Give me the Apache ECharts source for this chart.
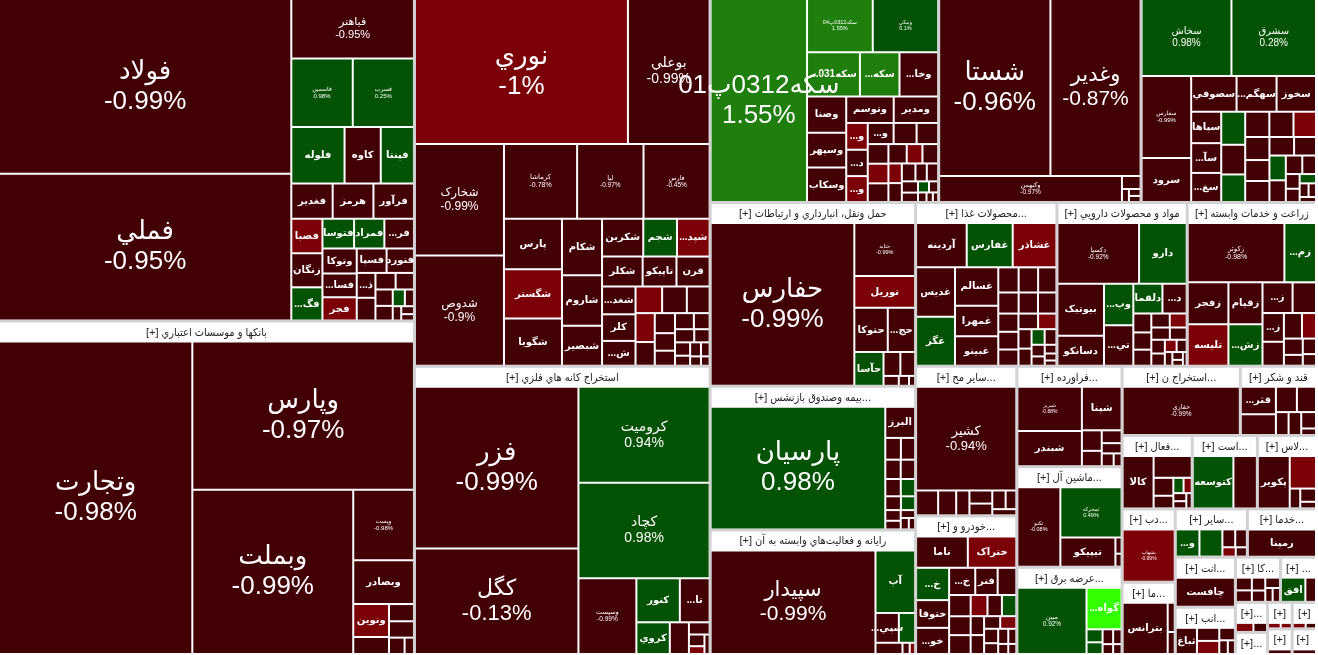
<!DOCTYPE html>
<html><head><meta charset="utf-8">
<script src="https://cdn.jsdelivr.net/npm/echarts@6/dist/echarts.min.js"></script>
<style>html,body{margin:0;padding:0;background:#fff;overflow:hidden}#c{width:1318px;height:655px}</style>
</head><body><div id="c"></div>
<script>
// ---- sector (industry) names and sizes ----
const sectorNames = [
 "فلزات اساسي","بانکها و موسسات اعتباري","محصولات شيميايي","استخراج کانه هاي فلزي",
 "سرمايه گذاريها","شرکتهاي چند رشته اي صنعتي","سيمان، آهک و گچ",
 "حمل ونقل، انبارداري و ارتباطات","بيمه وصندوق بازنشستگي به جزتامين اجتماعي","رايانه و فعاليت‌هاي وابسته به آن",
 "محصولات غذايي و آشاميدني به جز قند و شکر","مواد و محصولات دارويي","زراعت و خدمات وابسته",
 "ساير محصولات کاني غيرفلزي","خودرو و ساخت قطعات","فراورده هاي نفتي، کک و سوخت هسته اي",
 "ماشين آلات و تجهيزات","عرضه برق، گاز، بخاروآب گرم","استخراج نفت گاز و خدمات جنبي جز اکتشاف",
 "قند و شکر","فعاليتهاي کمکي به نهادهاي مالي واسط","استخراج ساير معادن","لاستيک و پلاستيک",
 "دباغي، پرداخت چرم و ساخت انواع پاپوش","ماشين آلات و دستگاه‌هاي برقي","ساير واسطه گريهاي مالي",
 "خدمات فني و مهندسي","انتشار، چاپ و تکثير","انبوه سازي، املاک و مستغلات","کاشي و سراميک",
 "خرده فروشي،باستثناي وسايل نقليه موتور","حمل و نقل آبي","محصولات کاغذي","منسوجات","هتل و رستوران",
 "محصولات چوبي","اطلاعات و ارتباطات"
];
const sectorValues = [141515,137780,113870,84665,50844,45046,39025,37515,29315,25420,22983,21190,21027,
 15049,13938,10510,10500,9135,8142,5244,5110,4745,4307,3869,3816,3456,3312,3000,2820,2025,1620,960,704,650,640,624,620];

// ---- cells: [symbol, size, change %, colour tone] ----
const metals = [["فولاد",50460,-0.99,-1],["فملي",42340,-0.95,-1],["فباهنر",7200,-0.95,-1],["فاسمين",4160,0.98,1],["فسرب",4140,0.25,1],
 ["فلوله",2970,null,1],["کاوه",2020,null,-1],["فپنتا",1850,null,1],["فغدير",1440,null,-1],["هرمز",1420,null,-1],["فرآور",1410,null,-1],
 ["فصبا",1060,null,-2],["زنگان",1050,null,-1],["...فگ",1020,null,1],["فتوسا",930,null,1],["فمراد",890,null,1],["...فر",870,null,-1],
 ["وتوکا",850,null,-1],["...فسا",800,null,-1],["فجر",790,null,-2],["فسپا",720,null,-1],["فنورد",660,null,-1],
 ["...ذ",460,null,-1],["",420,null,-1],["",330,null,-1],["",300,null,-1],["",280,null,-1],["",250,null,-1],["",200,null,1],["",150,null,-1],["",120,null,-1],["",100,null,-1],["",80,null,-1]];
const banks = [["وتجارت",59200,-0.98,-1],["وپارس",32200,-0.97,-1],["وبملت",25900,-0.99,-1],["وپست",4200,-0.98,-1],["وبصادر",2600,null,-1],
 ["ونوين",1150,null,-2],["",600,null,-1],["",420,null,-1],["",400,null,-1],["",250,null,-1],["",150,null,-1]];
const chemicals = [["نوري",30500,-1,-2],["بوعلي",11700,-0.99,-1],["شخارک",9800,-0.99,-1],["شدوص",9700,-0.9,-1],["کرماشا",5400,-0.78,-1],
 ["لپا",4900,-0.97,-1],["فارس",4880,-0.45,-1],["پارس",2900,null,-1],["شگستر",2820,null,-2],["شگويا",2700,null,-1],["شکام",2240,null,-1],
 ["شاروم",2000,null,-1],["شبصير",1580,null,-1],["شکربن",1540,null,-1],["شجم",1260,null,1],["...شپد",1220,null,-2],["شکلر",1200,null,-1],
 ["تاپيکو",1000,null,-1],["قرن",980,null,-1],["...شغد",920,null,-1],["کلر",880,null,-1],["...ش",820,null,-1],
 ["",700,null,-2],["",650,null,-1],["",600,null,-1],["",550,null,-2],["",450,null,-1],["",400,null,-1],["",350,null,-1],["",300,null,-1],
 ["",300,null,-1],["",250,null,-1],["",250,null,-1],["",200,null,-1],["",200,null,-1],["",150,null,-1],["",150,null,-1],["",120,null,-1],["",100,null,-1],["",80,null,-1]];
const mining = [["فزر",26200,-0.99,-1],["کگل",17100,-0.13,-1],["کروميت",12500,0.94,1],["کچاد",12400,0.98,1],["وسپست",4350,-0.99,-1],
 ["کنور",1900,null,1],["...تا",1300,null,-1],["کروي",1050,null,1],["",600,null,-1],["",250,null,-1],["",180,null,-1],["",120,null,-2],["",100,null,-1]];
const invest = [["سکه0312پ01",19300,1.55,2],["سکه0312پ04",3460,1.55,2],["ونيکي",3440,0.1,1],["...سکه031",2300,null,2],["...سکه",1720,null,2],
 ["...وخا",1680,null,-1],["وصنا",1400,null,-1],["وسپهر",1350,null,-1],["وسکاب",1330,null,-1],["وتوسم",1240,null,-1],["ومدير",1160,null,-1],
 ["...و",570,null,-2],["...د",560,null,-1],["...و",550,null,-2],["...و",540,null,-1],["",480,null,-1],["",450,null,-1],["",400,null,-2],
 ["",400,null,-1],["",380,null,-1],["",350,null,-1],["",300,null,-1],["",300,null,-2],["",260,null,-2],["",250,null,-1],["",240,null,-1],
 ["",200,null,-1],["",200,null,-1],["",180,null,-1],["",150,null,-1],["",120,null,1],["",100,null,-1],["",80,null,-1],["",60,null,-1],["",50,null,-1]];
const multiInd = [["شستا",19500,-0.96,-1],["وغدير",15800,-0.87,-1],["وکبهمن",4700,-0.97,-1],["",240,null,-1],["",90,null,-1],["",80,null,-1],["",70,null,-1]];
const cement = [["سخاش",6800,0.98,1],["سشرق",6400,0.28,1],["سفارس",4000,-0.99,-1],["سرود",2150,null,-1],["سصوفي",1600,null,-1],
 ["...سهگم",1410,null,-1],["سخوز",1390,null,-1],["سپاها",930,null,-1],["...سآ",880,null,-1],["...سغ",860,null,-1],
 ["",780,null,1],["",700,null,-1],["",650,null,1],["",600,null,-1],["",600,null,-1],["",560,null,-2],["",550,null,-1],["",500,null,-1],
 ["",500,null,-1],["",450,null,-1],["",400,null,1],["",400,null,-1],["",350,null,-1],["",300,null,-1],["",250,null,-1],["",200,null,-1],
 ["",180,null,-1],["",150,null,1],["",120,null,-1],["",100,null,-1],["",80,null,-1]];
const transport = [["حفارس",23200,-0.99,-1],["حتايد",3200,-0.99,-1],["توريل",1900,null,-2],["حتوکا",1470,null,-1],["...حج",1200,null,-1],
 ["حآسا",980,null,1],["",400,null,-1],["",350,null,-1],["",150,null,-1],["",100,null,-1],["",60,null,-1]];
const insurance = [["پارسيان",20800,0.98,1],["البرز",900,null,-1],["",330,null,-1],["",300,null,-1],["",290,null,-1],["",270,null,-1],
 ["",260,null,-1],["",240,null,1],["",210,null,-1],["",190,null,1],["",160,null,-1],["",130,null,-1],["",110,null,-1],["",90,null,-1],["",70,null,-1]];
const computer = [["سپيدار",16900,-0.99,-1],["آپ",2450,null,1],["...سپي",690,null,-1],["",480,null,1],["",300,null,-1],["",80,null,-1],["",60,null,-2]];
const food = [["آردينه",2200,null,-1],["غفارس",2000,null,1],["غشاذر",1900,null,-2],["غديس",1880,null,-1],["غگز",1870,null,1],
 ["غسالم",1630,null,-1],["غمهرا",1290,null,-1],["غبينو",1250,null,-1],["",500,null,-1],["",480,null,-1],["",450,null,-1],["",420,null,-1],
 ["",400,null,-1],["",380,null,-1],["",360,null,-1],["",350,null,-1],["",320,null,-1],["",300,null,-1],["",280,null,-2],["",250,null,-1],
 ["",220,null,-1],["",200,null,1],["",180,null,-1],["",150,null,-1],["",120,null,-1],["",100,null,-1],["",80,null,-1],["",60,null,-1]];
const pharma = [["دکسپا",4800,-0.92,-1],["دارو",2800,null,1],["بيوتيک",2350,null,-1],["دسانکو",1350,null,-1],["...وپ",1180,null,1],
 ["...تي",1150,null,-1],["دلقما",840,null,1],["...د",700,null,-1],["",330,null,-1],["",300,null,-1],["",280,null,-1],["",250,null,-1],
 ["",230,null,-2],["",220,null,-1],["",200,null,-1],["",180,null,-1],["",160,null,-1],["",140,null,-2],["",120,null,-1],["",100,null,-1],
 ["",80,null,-1],["",60,null,-1],["",50,null,-1]];
const agri = [["زکوثر",5600,-0.98,-1],["...زم",1830,null,1],["زفجر",1660,null,-1],["تليسه",1650,null,-2],["زقيام",1390,null,-1],
 ["...زش",1380,null,1],["...ز",900,null,-1],["",700,null,-1],["...ز",600,null,-1],["",500,null,-1],["",450,null,-1],["",350,null,-2],
 ["",300,null,-1],["",200,null,-1],["",200,null,-1],["",150,null,-1]];
const nonMetal = [["کشير",10400,-0.94,-1],["",550,null,-1],["",450,null,-1],["",330,null,-1],["",300,null,-1],["",270,null,-1],["",250,null,-1],["",200,null,-1],["",150,null,-1]];
const auto = [["ناما",1600,null,-1],["ختراک",1500,null,-2],["...خ",1050,null,1],["ختوقا",900,null,-1],["...خو",850,null,-1],["...خ",700,null,-1],
 ["فنر",600,null,-1],["",500,null,-1],["",450,null,-1],["",400,null,-1],["",400,null,-1],["",350,null,-2],["",300,null,1],["",300,null,-1],
 ["",250,null,-1],["",250,null,-1],["",200,null,-1],["",200,null,-2],["",200,null,-1],["",150,null,-1],["",150,null,-1],["",120,null,-1],["",100,null,-1],["",80,null,-1]];
const oilProd = [["شبريز",2800,-0.88,-1],["شبندر",2240,null,-1],["شپنا",1700,null,-1],["",400,null,-1],["",300,null,-1],["",250,null,-1],["",200,null,-1],["",150,null,-1],["",100,null,-1]];
const machinery = [["تکنو",3400,-0.08,-1],["تمحرکه",3060,0.49,1],["تيپيکو",1600,null,-1],["",100,null,-1],["",80,null,-1]];
const power = [["مبين",4400,0.92,1],["...گواه",1400,null,3],["",200,null,1],["",180,null,1],["",150,null,-1],["",120,null,-1],["",100,null,-1],["",80,null,-1]];
const oilGas = [["حفاري",4660,-0.99,-1]];
const sugar = [["...قثر",1000,null,-1],["",750,null,-1],["",550,null,-1],["",500,null,-1],["",300,null,-1],["",300,null,-1],["",250,null,-1],["",100,null,-1]];
const finAux = [["کالا",1560,null,-1],["",800,null,-1],["",340,null,-1],["",240,null,-1],["",150,null,1],["",120,null,-2],["",100,null,-1],["",90,null,-1],["",80,null,-1]];
const otherMining = [["کتوسعه",2080,null,1],["",1200,null,-1]];
const rubber = [["پکوير",1600,null,-1],["",820,null,-2],["",200,null,-1],["",200,null,-1],["",100,null,-1]];
const leather = [["بشهاب",2600,-0.99,-2]];
const elecMach = [["بترانس",2240,null,-1],["",200,null,-1],["",150,null,-1]];
const otherFin = [["...و",620,null,1],["",600,null,1],["",220,null,-1],["",200,null,-1],["",120,null,-2],["",100,null,-1]];
const techServ = [["رمپنا",1800,null,-1]];
const publishing = [["چافست",1700,null,-1]];
const building = [["ثباغ",570,null,-1],["",300,null,-2],["",300,null,-1],["",200,null,-1],["",120,null,-1],["",100,null,-1]];
const tiles = [["",200,null,-1],["",180,null,-1],["",170,null,-1],["",150,null,-1],["",150,null,-1],["",100,null,-1],["",100,null,-1]];
const retail = [["افق",550,null,1],["",240,null,-1]];
const tinyA = [["",180,null,-2],["",140,null,-1]];
const tinyB = [["",60,null,-1]];
const tinyC = [["",80,null,-2],["",70,null,-2]];
const tinyD = [["",80,null,-2],["",64,null,-1]];
const tinyE = [["",50,null,-1]];
const tinyF = [["",50,null,-1]];
const sectorCells = [metals,banks,chemicals,mining,invest,multiInd,cement,transport,insurance,computer,food,pharma,agri,
 nonMetal,auto,oilProd,machinery,power,oilGas,sugar,finAux,otherMining,rubber,leather,elecMach,otherFin,techServ,publishing,
 building,tiles,retail,tinyA,tinyB,tinyC,tinyD,tinyE,tinyF];

// ---- styling ----
const TONE = {"-2":"#7b0008","-1":"#420004","1":"#045204","2":"#1f7e0c","3":"#33ff00"};
const FONT = "'Liberation Sans','DejaVu Sans',sans-serif";
const HFONT = "'Liberation Sans','DejaVu Sans Condensed','DejaVu Sans',sans-serif";
function pctFont(v){
  const s = Math.sqrt(v);
  if (s >= 135) return 26;
  if (s >= 120) return Math.round(s*0.165);
  if (s >= 78) return Math.round(s*0.125);
  return Math.max(5, Math.round(s*0.095*2)/2);
}
const treeData = sectorNames.map((nm,i)=>({
  name: nm, value: sectorValues[i],
  children: sectorCells[i].map(([n,v,p,t])=>{
    const hasPct = p !== null;
    const fs = hasPct ? pctFont(v) : 10;
    return {name:n, value:v, pct:p, itemStyle:{color:TONE[String(t)]},
      label:{fontSize:fs, fontWeight: hasPct ? 'normal' : 'bold', lineHeight: Math.round(fs*1.15)}};
  })
}));

const chart = echarts.init(document.getElementById('c'), null, {renderer:'canvas'});
chart.setOption({
  animation:false,
  tooltip:{show:false},
  series:[{
    type:'treemap',
    left:0, top:-20, width:1315, height:673,
    squareRatio:1,
    roam:false, nodeClick:false, drillDownIcon:'',
    breadcrumb:{show:false},
    visibleMin:0,
    sort:'desc',
    label:{show:true, position:'inside', align:'center', verticalAlign:'middle', color:'#fff', padding:0,
      overflow:'none', fontFamily:FONT,
      formatter:(p)=> (p.data && p.data.pct !== null && p.data.pct !== undefined) ? (p.name + '\n' + p.data.pct + '%') : p.name},
    upperLabel:{show:false},
    levels:[
      {itemStyle:{borderColor:'#d2d2d2', borderWidth:0, gapWidth:3}, upperLabel:{show:false}},
      {itemStyle:{borderColor:'#ffffff', borderWidth:0, gapWidth:2},
       upperLabel:{show:true, height:20, position:'inside', align:'center', verticalAlign:'middle', color:'#222',
         fontSize:11, fontFamily:HFONT, padding:[0,2], overflow:'truncate', ellipsis:'...',
         formatter:(p)=>'[+] ' + p.name}},
      {itemStyle:{borderWidth:0, gapWidth:0}}
    ],
    data: treeData
  }]
});
</script></body></html>
